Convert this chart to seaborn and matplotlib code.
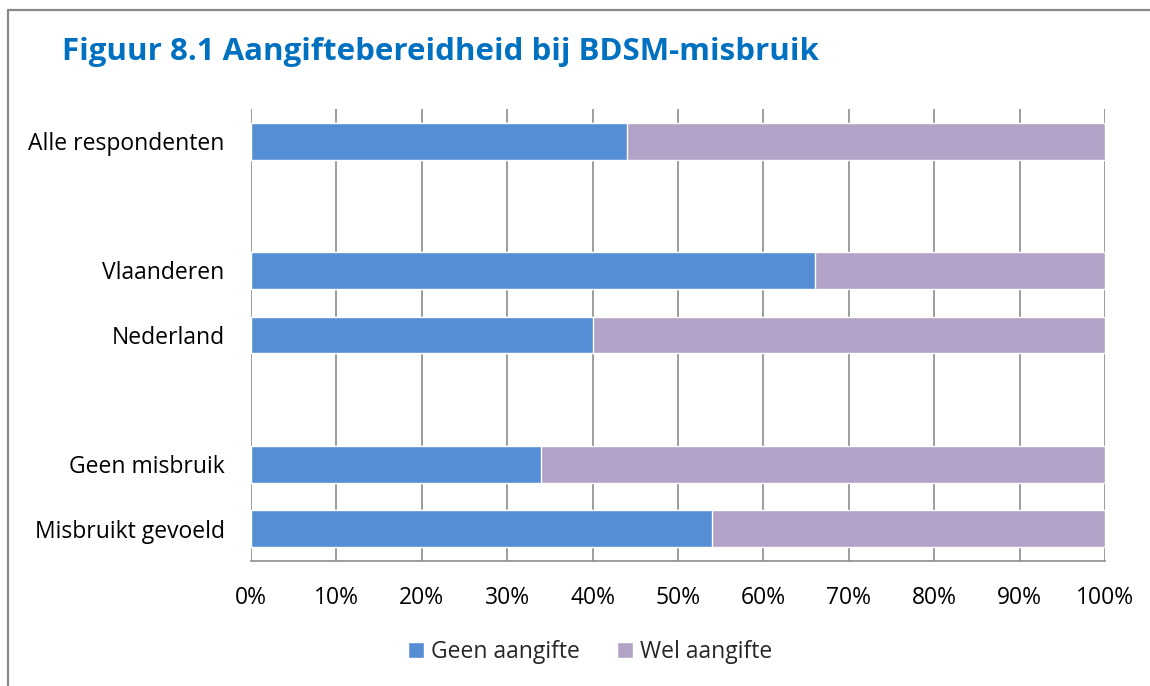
"""Figuur 8.1 - aangiftebereidheid bij BDSM-misbruik."""

import matplotlib

matplotlib.use("Agg")
import matplotlib.pyplot as plt
import pandas as pd
import seaborn as sns
from matplotlib.lines import Line2D
from matplotlib.patches import Patch
from matplotlib.ticker import FuncFormatter, MultipleLocator

# data (percentages)
categories = ["Alle respondenten", "Vlaanderen", "Nederland", "Geen misbruik", "Misbruikt gevoeld"]
geen_aangifte = [44, 66, 40, 34, 54]
wel_aangifte = [56, 34, 60, 66, 46]
order = ["Alle respondenten", " ", "Vlaanderen", "Nederland", "  ", "Geen misbruik", "Misbruikt gevoeld"]
series_names = ["Geen aangifte", "Wel aangifte"]

BLUE = "#558ED5"
PURPLE = "#B3A2C7"
GRID = "#8C8C8C"

df = pd.DataFrame({"categorie": categories, "geen": geen_aangifte, "wel": wel_aangifte})
df["totaal"] = df["geen"] + df["wel"]

sns.set_theme(style="white")
plt.rcParams["font.family"] = ["Open Sans", "DejaVu Sans"]

fig = plt.figure(figsize=(11.5, 6.86), dpi=100)
ax = fig.add_axes([251 / 1150, 1 - 561 / 686, 854 / 1150, 452 / 686])

ax.xaxis.grid(True, color=GRID, linewidth=1.2)
ax.set_axisbelow(True)

sns.barplot(data=df, x="totaal", y="categorie", order=order, color=PURPLE,
            width=0.57, saturation=1, ax=ax, orient="h")
sns.barplot(data=df, x="geen", y="categorie", order=order, color=BLUE,
            width=0.57, saturation=1, ax=ax, orient="h")

ax.set_xlim(0, 100)
ax.xaxis.set_major_locator(MultipleLocator(10))
ax.xaxis.set_major_formatter(FuncFormatter(lambda v, _: f"{v:.0f}%"))
ax.set_xlabel("")
ax.set_ylabel("")
ax.tick_params(axis="x", length=0, pad=18, labelsize=16.5, labelcolor="black")
ax.tick_params(axis="y", length=0, pad=19, labelsize=16.5, labelcolor="black")

for side in ["top", "right", "left"]:
    ax.spines[side].set_visible(False)
ax.spines["bottom"].set_color(GRID)
ax.spines["bottom"].set_linewidth(1.2)

fig.text(62 / 1150, 1 - 52 / 686, "Figuur 8.1 Aangiftebereidheid bij BDSM-misbruik",
         fontsize=22.5, fontweight="bold", color="#0070C0", va="center", ha="left")

handles = [Patch(facecolor=BLUE, label=series_names[0]),
           Patch(facecolor=PURPLE, label=series_names[1])]
fig.legend(handles=handles, loc="center", bbox_to_anchor=(590 / 1150, 1 - 652 / 686),
           ncol=2, frameon=False, fontsize=16.5, handlelength=0.7, handleheight=0.7,
           handletextpad=0.3, columnspacing=1.6)

# chart-area border (left and top)
border = dict(color="#888888", linewidth=1.6, transform=fig.transFigure)
fig.add_artist(Line2D([8 / 1150, 8 / 1150], [0, 1 - 10 / 686], **border))
fig.add_artist(Line2D([8 / 1150, 1], [1 - 10 / 686, 1 - 10 / 686], **border))

fig.savefig("out.png", dpi=100)
plt.close(fig)
